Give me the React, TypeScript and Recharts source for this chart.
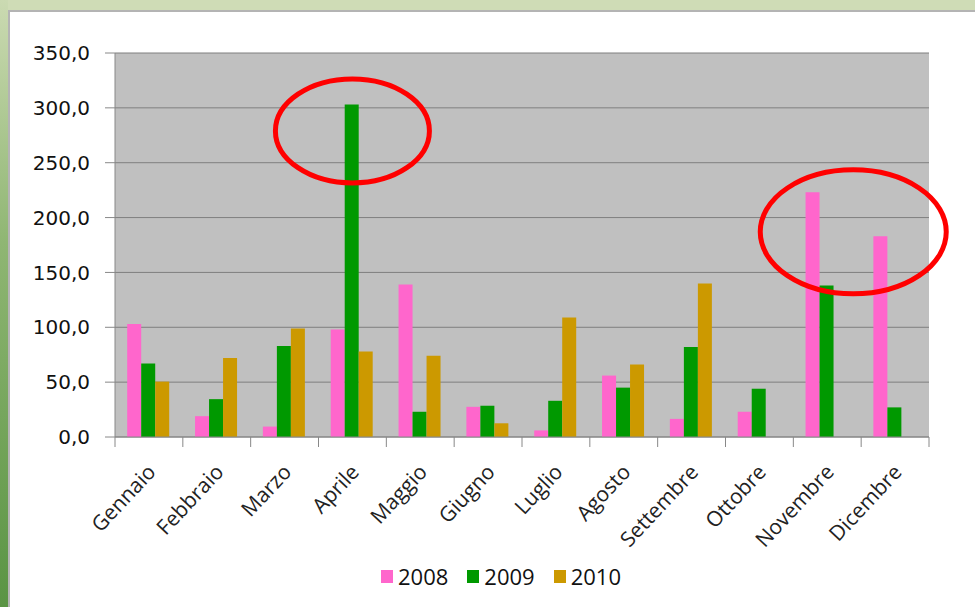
import React from 'react';
import { BarChart, Bar, XAxis, YAxis, CartesianGrid, Legend, ReferenceDot } from 'recharts';

const months = [
  'Gennaio', 'Febbraio', 'Marzo', 'Aprile', 'Maggio', 'Giugno',
  'Luglio', 'Agosto', 'Settembre', 'Ottobre', 'Novembre', 'Dicembre',
];
const values2008 = [103, 19, 9.5, 98, 139, 27.5, 6, 56, 16.5, 23, 223, 183];
const values2009 = [67, 34.5, 83, 303, 23, 28.5, 33, 45, 82, 44, 138, 27];
const values2010 = [50.5, 72, 99, 78, 74, 12.5, 109, 66, 140, 0, 0, 0];
const yTicks = [0, 50, 100, 150, 200, 250, 300, 350];

const series = [
  { key: 'y2008', name: '2008', color: '#ff66cc' },
  { key: 'y2009', name: '2009', color: '#009900' },
  { key: 'y2010', name: '2010', color: '#cc9900' },
];

// red rings drawn over the chart (month, value at centre, px offset, radii)
const circled = [
  { month: 'Aprile', value: 279, dx: 0, rx: 77, ry: 52 },
  { month: 'Novembre', value: 187, dx: 26, rx: 93, ry: 62 },
];

const data = months.map((m, i) => ({
  month: m,
  y2008: values2008[i],
  y2009: values2009[i],
  y2010: values2010[i],
}));

const BAND = 814 / 12;

function MonthTick(props: any) {
  const { x, y, payload, index } = props;
  const last = index === months.length - 1;
  const tx = x + 8;
  const ty = y + 28;
  return (
    <g>
      <line x1={x - BAND / 2} y1={y - 8} x2={x - BAND / 2} y2={y + 2} stroke="#888" />
      {last && <line x1={x + BAND / 2} y1={y - 8} x2={x + BAND / 2} y2={y + 2} stroke="#888" />}
      <text
        x={tx}
        y={ty}
        textAnchor="end"
        transform={`rotate(-47 ${tx} ${ty})`}
        fontFamily="'Open Sans', sans-serif"
        fontSize={21}
        fill="#222"
      >
        {payload.value}
      </text>
    </g>
  );
}

function LegendBox() {
  return (
    <div style={{ display: 'flex', paddingLeft: 381, gap: 19, fontFamily: "'Open Sans', sans-serif", fontSize: 22, color: '#111' }}>
      {series.map((s) => (
        <span key={s.key} style={{ display: 'flex', alignItems: 'center' }}>
          <span style={{ width: 12, height: 13, background: s.color, marginRight: 5, display: 'inline-block' }} />
          {s.name}
        </span>
      ))}
    </div>
  );
}

export default function App() {
  return (
    <div style={{ position: 'fixed', left: 0, top: 0, width: 975, height: 607, background: '#cfdcb6', overflow: 'hidden' }}>
      <div style={{ position: 'absolute', left: 0, top: 0, width: 8, height: 607, background: 'linear-gradient(#cbdab2, #8fb673 40%, #5a9444)' }} />
      <div style={{ position: 'absolute', left: 8, top: 10, width: 967, height: 597, background: '#fff', borderTop: '2px solid #b4b4b4', borderLeft: '2px solid #b4b4b4', boxSizing: 'border-box' }} />
      <div style={{ position: 'absolute', left: 0, top: 0 }}>
        <BarChart
          width={975}
          height={607}
          data={data}
          margin={{ top: 53, right: 46, left: 0, bottom: 60 }}
          barCategoryGap="18%"
          barGap={0}
        >
          <CartesianGrid vertical={false} stroke="#7f7f7f" fill="#c0c0c0" fillOpacity={1} />
          <XAxis
            dataKey="month"
            height={110}
            interval={0}
            tickLine={false}
            axisLine={{ stroke: '#888' }}
            tick={<MonthTick />}
          />
          <YAxis
            width={115}
            domain={[0, 350]}
            ticks={yTicks}
            interval={0}
            tickFormatter={(v: number) => v.toFixed(1).replace('.', ',')}
            axisLine={{ stroke: '#888' }}
            tickLine={{ stroke: '#888' }}
            tickSize={10}
            tickMargin={15}
            tick={{ fontFamily: "'DejaVu Sans', sans-serif", fontSize: 20, fill: '#111' }}
          />
          {series.map((s) => (
            <Bar key={s.key} dataKey={s.key} name={s.name} fill={s.color} isAnimationActive={false} />
          ))}
          {circled.map((c) => (
            <ReferenceDot
              key={c.month}
              x={c.month}
              y={c.value}
              ifOverflow="visible"
              shape={(p: any) => (
                <ellipse cx={p.cx + c.dx} cy={p.cy} rx={c.rx} ry={c.ry} fill="none" stroke="#ff0000" strokeWidth={5} />
              )}
            />
          ))}
          <Legend
            layout="horizontal"
            verticalAlign="middle"
            align="center"
            wrapperStyle={{ top: 561, left: 0, width: 975 }}
            content={<LegendBox />}
          />
        </BarChart>
      </div>
    </div>
  );
}
